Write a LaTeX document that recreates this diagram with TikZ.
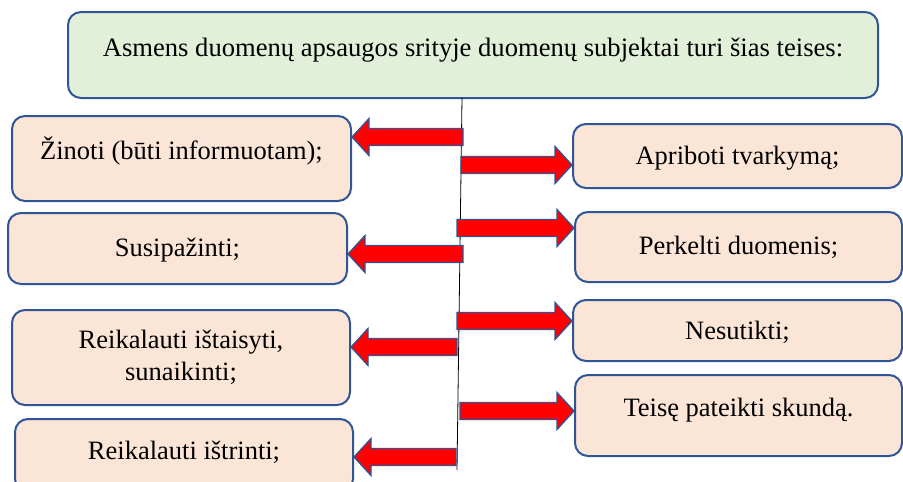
\documentclass[tikz,border=0pt]{standalone}
\usepackage{fontspec}
\setmainfont{Liberation Serif}
\usetikzlibrary{calc}

\definecolor{bordc}{HTML}{2F5597}
\definecolor{topfill}{HTML}{E2F0D9}
\definecolor{boxfill}{HTML}{FBE5D6}

\tikzstyle{bT}=[rounded corners=13pt,line width=2pt,draw=bordc,fill=topfill,inner sep=0pt,align=center,font=\fontsize{26.6}{31}\selectfont]
\tikzstyle{bS}=[rounded corners=13pt,line width=2pt,draw=bordc,fill=boxfill,inner sep=0pt,align=center,font=\fontsize{26.5}{32}\selectfont]
\tikzstyle{aR}=[fill=red,draw=bordc,line width=1.3pt,line join=miter]

% block arrow: #1 tail, #2 tip (horizontal)
\newcommand{\blkarrow}[2]{%
  \filldraw[aR] let \p1=(#1), \p2=(#2), \p3=($(#2)!17pt!(#1)$) in
    (\x1,{\y1+8.5pt}) -- (\x3,{\y1+8.5pt}) -- (\x3,{\y1+18.5pt})
    -- (\x2,\y1) -- (\x3,{\y1-18.5pt}) -- (\x3,{\y1-8.5pt})
    -- (\x1,{\y1-8.5pt}) -- cycle;}

\begin{document}
\begin{tikzpicture}[x=1pt,y=-1pt]
        \useasboundingbox (0,0) rectangle (903,482);
        \clip (0,0) rectangle (903,482);
                \draw (473,55) node[bT,minimum width=810pt,minimum height=86pt,text height=23pt,text depth=20pt] (hdr) {Asmens duomenų apsaugos srityje duomenų subjektai turi šias teises:};
                % left column
                \draw (181.5,158.5) node[bS,minimum width=339pt,minimum height=85pt,text height=24pt,text depth=23pt] (zin) {Žinoti (būti informuotam);};
                \draw (177.5,248.5) node[bS,minimum width=339pt,minimum height=71pt,text height=22pt,text depth=6pt] (sus) {Susipažinti;};
                \draw (181,357.5) node[bS,minimum width=338pt,minimum height=95pt] (sit) {Reikalauti ištaisyti,\\sunaikinti;};
                \draw (184,455.5) node[bS,minimum width=338pt,minimum height=73pt,text height=24pt,text depth=17pt] (str) {Reikalauti ištrinti;};
                % right column
                \draw (737.5,156) node[bS,minimum width=329pt,minimum height=64pt,text height=24pt,text depth=8pt] (apr) {Apriboti tvarkymą;};
                \draw (738.5,247) node[bS,minimum width=327pt,minimum height=70pt,text height=24pt,text depth=10pt] (per) {Perkelti duomenis;};
                \draw (737.5,330.5) node[bS,minimum width=329pt,minimum height=61pt,text height=24pt,text depth=6pt] (nes) {Nesutikti;};
                \draw (738.5,415.5) node[bS,minimum width=327pt,minimum height=81pt,text height=24pt,text depth=23pt] (skd) {Teisę pateikti skundą.};
                % spine
                \coordinate (sT) at (462,98);
                \coordinate (sB) at (457,470);
                \draw[line width=0.8pt] (sT) -- (sB);
                \coordinate (a1) at (463,137);
                \coordinate (a2) at (463,254);
                \coordinate (a3) at (457,347);
                \coordinate (a4) at (456,457);
                \coordinate (b1) at (461,165);
                \coordinate (b2) at (457,228);
                \coordinate (b3) at (457,321);
                \coordinate (b4) at (460,411);
                \blkarrow{a1}{a1 -| zin.east}
                \blkarrow{a2}{a2 -| sus.east}
                \blkarrow{a3}{a3 -| sit.east}
                \blkarrow{a4}{a4 -| str.east}
                \blkarrow{b1}{b1 -| apr.west}
                \blkarrow{b2}{b2 -| per.west}
                \blkarrow{b3}{b3 -| nes.west}
                \blkarrow{b4}{b4 -| skd.west}
        \end{tikzpicture}
\end{document}
